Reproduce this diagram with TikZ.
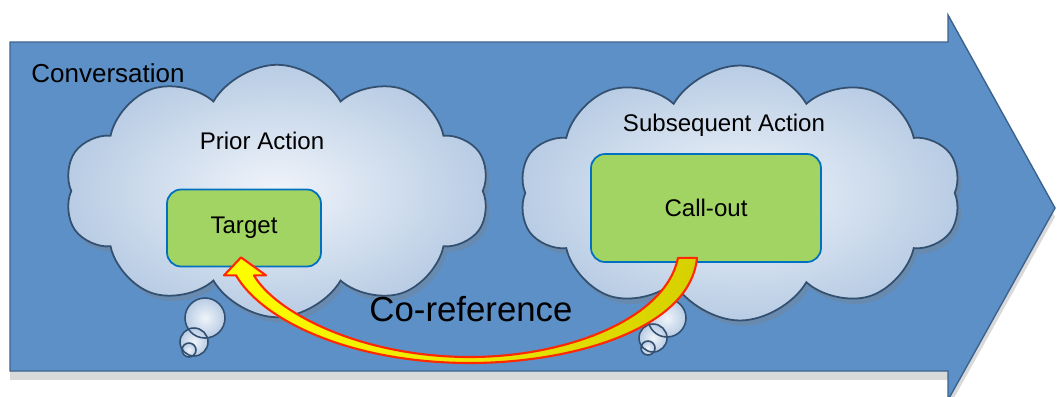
\documentclass[tikz,border=0pt]{standalone}
\usepackage{fontspec}
\setmainfont{Liberation Sans}
\usetikzlibrary{arrows.meta,positioning,calc,shapes.symbols,shadows}
\definecolor{flow}{RGB}{92,144,199}
\definecolor{flowline}{RGB}{60,98,142}
\definecolor{puffline}{RGB}{52,80,112}
\definecolor{puffin}{RGB}{240,244,250}
\definecolor{puffout}{RGB}{184,204,228}
\definecolor{leaf}{RGB}{162,212,100}
\definecolor{leafline}{RGB}{0,112,192}
\definecolor{amber}{RGB}{214,208,0}
\definecolor{hot}{RGB}{255,40,0}

\begin{document}
\begin{tikzpicture}[x=0.02cm,y=-0.02cm,
  puff/.style={cloud,cloud puffs=10,cloud puff arc=120,cloud ignores aspect,draw=puffline,line width=1pt,inner color=puffin,outer color=puffout,drop shadow={opacity=.35,shadow xshift=2pt,shadow yshift=-3pt}},
  bubble/.style={inner color=puffin,outer color=puffout},
  act/.style={draw=leafline,fill=leaf,line width=1pt,rounded corners=8pt,font=\fontsize{13.7}{16}\selectfont},
  lbl/.style={font=\fontsize{13.7}{16}\selectfont}]
\useasboundingbox (0,0) rectangle (1057,396);
\draw[flowline,fill=flow,line width=0.8pt,drop shadow={opacity=.3,shadow xshift=0pt,shadow yshift=-5pt}]
  (10,42) -- (948,42) -- (948,15) -- (1055,208) -- (948,400) -- (948,371) -- (10,371) -- cycle;
\node[anchor=west,inner sep=0pt,font=\fontsize{14.8}{17}\selectfont] (conv) at (31,73) {Conversation};
\foreach \cx/\cy/\r in {205/318/20,194/342/14,189/350/7,667/318/19,653/338/14,648/348/7}{
  \shade[bubble] (\cx,\cy) circle (\r);
}
\foreach \cx/\cy/\r in {205/318/20,194/342/14,189/350/7,667/318/19,653/338/14,648/348/7}{
  \draw[puffline,line width=0.9pt] (\cx,\cy) circle (\r);
}
\node[puff,minimum width=8.5cm,minimum height=5.05cm] (prior) at (277,191) {};
\node[puff,minimum width=8.84cm,minimum height=5.1cm] (later) at (740,193) {};
\node[lbl] (priorlbl) at (262,141) {Prior Action};
\node[lbl] (laterlbl) at (724,125) {Subsequent Action};
\node[act,minimum width=3.08cm,minimum height=1.54cm] (target) at (244,228) {Target};
\node[act,minimum width=4.6cm,minimum height=2.16cm] (callout) at (706,208) {Call-out};
\node[font=\fontsize{19.8}{23}\selectfont] (coref) at (471,309) {Co-reference};
\draw[hot,line width=1.2pt,line join=round,left color=yellow,middle color=yellow,right color=amber]
  ($(callout.south)+(-28,-5)$) -- ($(callout.south)+(-9,-5)$)
  .. controls (690,330) and (570,363) .. (470,363)
  .. controls (350,363) and (262,320) .. ($(target.south)+(-8,8)$)
  -- ($(target.south)+(-20,8)$) -- ($(target.south)+(-3,-10)$) -- ($(target.south)+(22,8)$)
  -- ($(target.south)+(10,8)$)
  .. controls (275,312) and (360,357) .. (470,357)
  .. controls (565,357) and (665,320) .. ($(callout.south)+(-28,-5)$) -- cycle;
\end{tikzpicture}
\end{document}
